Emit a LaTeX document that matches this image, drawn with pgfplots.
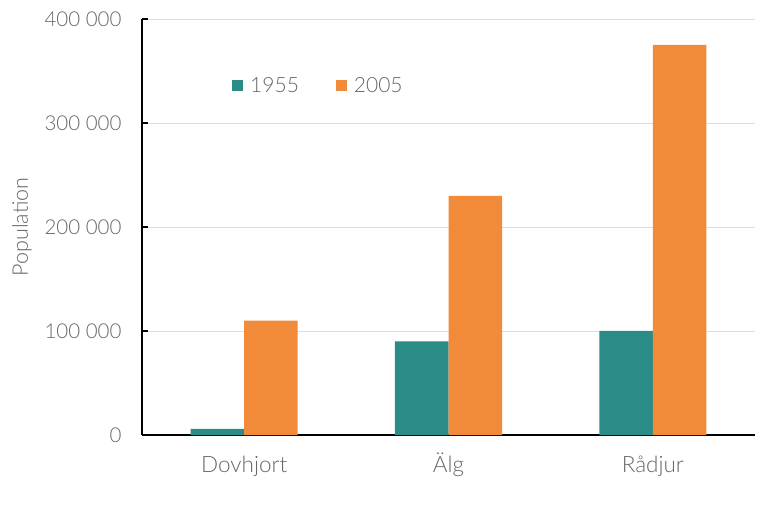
\documentclass[border=0pt]{standalone}
\usepackage{pgfplots}
\pgfplotsset{compat=1.18}
\usepackage{fontspec}
\setmainfont{Lato Light}
\definecolor{teal1}{RGB}{43,140,135}
\definecolor{orange1}{RGB}{241,138,57}
\definecolor{txt}{RGB}{102,102,102}
\begin{document}
\begin{tikzpicture}
\useasboundingbox (-142bp,-88bp) rectangle (626bp,435bp);
\begin{axis}[
  scale only axis, width=613bp, height=416bp,
  xmin=-0.5, xmax=2.5, ymin=0, ymax=400000,
  scaled y ticks=false,
  axis lines*=left,
  axis line style={black, line width=1.2bp},
  xtick={0,1,2}, xticklabels={Dovhjort,Älg,Rådjur},
  major x tick style={draw=none},
  ytick={0,100000,200000,300000,400000},
  yticklabels={0,100 000,200 000,300 000,400 000},
  ytick align=inside, major tick length=6bp,
  tick style={black, line width=1.2bp},
  ymajorgrids, grid style={black!13, line width=0.8bp},
  ticklabel style={text=txt},
  yticklabel style={font=\fontsize{20.5bp}{24bp}\selectfont, xshift=-17bp},
  xticklabel style={font=\fontsize{22.5bp}{26bp}\selectfont, anchor=base, yshift=-31bp},
  ylabel={Population},
  every axis y label/.style={at={(axis description cs:0,0.5)}, xshift=-120bp, rotate=90, anchor=center, font=\fontsize{21.5bp}{25bp}\selectfont, text=txt},
  ybar, bar width=0.262,
  legend style={at={(rel axis cs:0.142,0.839)}, anchor=west, draw=none, fill=none,
    legend columns=2, font=\fontsize{21bp}{25bp}\selectfont, text=txt,
    /tikz/every even column/.append style={column sep=35bp}},
  legend image code/.code={\fill[#1] (0bp,-5.5bp) rectangle (11bp,5.5bp); \path (16bp,0bp);},
]
\addplot[fill=teal1, draw=none, bar shift=-0.131] coordinates {(0,6000) (1,90000) (2,100000)};
\addplot[fill=orange1, draw=none, bar shift=0.131] coordinates {(0,110000) (1,230000) (2,375000)};
\legend{1955,2005}
\end{axis}
\end{tikzpicture}
\end{document}
